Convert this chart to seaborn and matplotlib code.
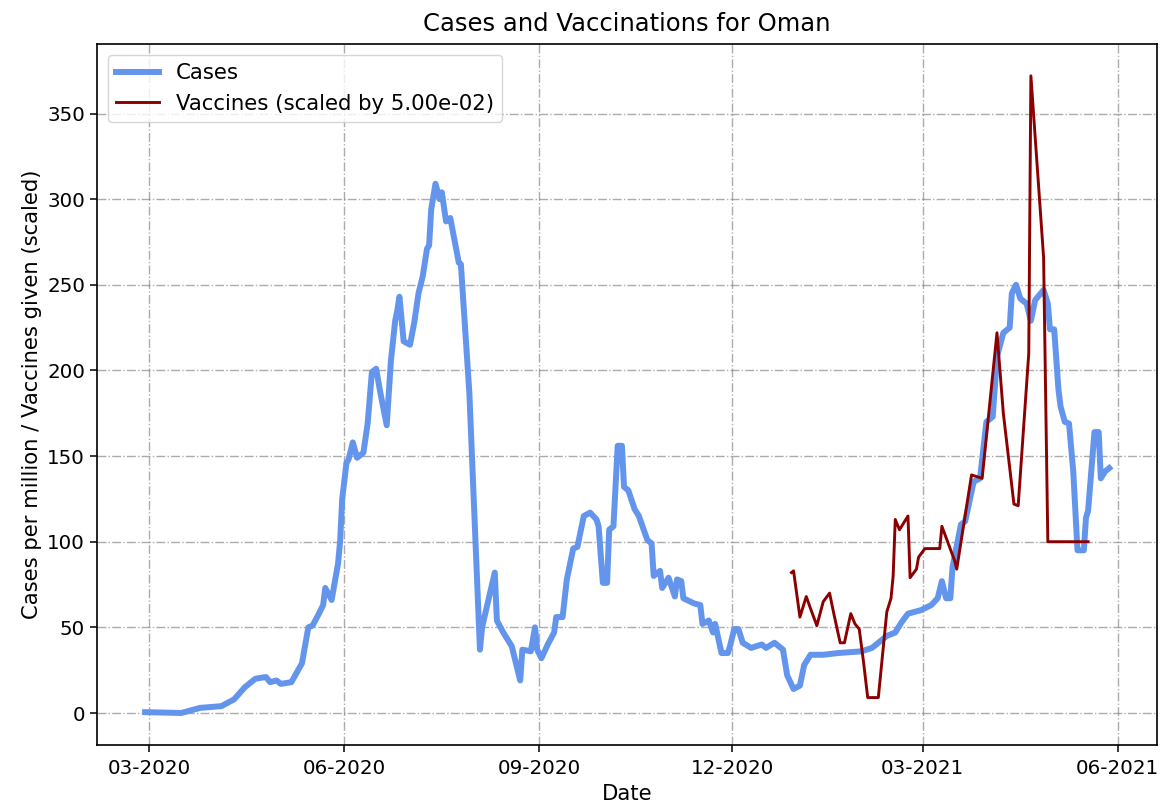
import pandas as pd
import seaborn as sns
import matplotlib.pyplot as plt
import matplotlib.dates as mdates

# dias contados a partir de 2020-03-01
base = pd.Timestamp("2020-03-01")

case_days = [-2, 15, 24, 34, 40, 45, 50, 55, 57, 60, 62, 67, 72, 75, 77, 80, 82, 83, 86, 89,
             90, 91, 93, 94, 96, 98, 101, 103, 105, 107, 109, 112, 114, 116, 117, 118, 120, 123,
             125, 127, 129, 131, 132, 133, 135, 137, 138, 140, 142, 144, 146, 147, 151, 156, 157,
             163, 164, 167, 171, 175, 176, 180, 182, 183, 185, 188, 191, 192, 195, 197, 200, 202,
             205, 208, 211, 212, 214, 216, 217, 219, 221, 223, 224, 226, 229, 231, 235, 237, 238,
             241, 242, 245, 248, 249, 251, 252, 257, 260, 261, 264, 266, 267, 270, 273, 274, 276,
             278, 280, 284, 289, 291, 295, 299, 301, 304, 307, 309, 312, 318, 325, 336, 341, 344,
             348, 352, 355, 358, 364, 369, 372, 374, 376, 378, 379, 383, 385, 389, 392, 395, 398,
             400, 403, 406, 407, 409, 411, 414, 416, 418, 422, 424, 425, 427, 429, 430, 432, 434,
             436, 438, 441, 442, 443, 446, 448, 449, 451, 453]
case_values = [0.5, 0, 3, 4, 8, 15, 20, 21, 18, 19, 17, 18, 29, 50, 51, 58, 63, 73, 66, 87,
               100, 125, 146, 148, 158, 149, 152, 169, 199, 201, 187, 168, 206, 229, 235, 243, 217, 215,
               228, 245, 255, 271, 273, 294, 309, 300, 304, 287, 289, 276, 263, 262, 187, 37, 50,
               82, 54, 47, 39, 19, 37, 36, 50, 37, 32, 40, 47, 56, 56, 78, 96, 97,
               115, 117, 113, 109, 76, 76, 107, 109, 156, 156, 132, 130, 119, 115, 101, 99, 80,
               83, 73, 79, 68, 78, 77, 67, 64, 63, 52, 54, 47, 52, 35, 35, 39, 49,
               49, 41, 38, 40, 38, 41, 37, 22, 14, 16, 28, 34, 34, 35, 36, 38, 41,
               45, 47, 53, 58, 60, 63, 67, 77, 67, 67, 85, 110, 112, 135, 137, 170, 173,
               208, 222, 225, 245, 250, 242, 239, 229, 241, 247, 239, 224, 224, 189, 179, 170, 169,
               141, 95, 95, 114, 118, 164, 164, 137, 141, 143]

vacc_days = [303, 304, 307, 310, 312, 315, 318, 321, 323, 326, 328, 331, 333, 335, 337, 339, 344,
             348, 350, 351, 352, 354, 356, 358, 359, 362, 363, 366, 373, 374, 380, 381, 388, 393,
             400, 403, 408, 410, 415, 416, 422, 424, 443]
vacc_values = [82, 83, 56, 68, 61, 51, 65, 70, 58, 41, 41, 58, 52, 49, 30, 9, 9,
               59, 67, 80, 113, 107, 111, 115, 79, 84, 91, 96, 96, 109, 89, 84, 139, 137,
               222, 175, 122, 121, 210, 372, 266, 100, 100]
escala = 5.00e-02

casos = pd.DataFrame({"Date": base + pd.to_timedelta(case_days, unit="D"), "valor": case_values})
vacinas = pd.DataFrame({"Date": base + pd.to_timedelta(vacc_days, unit="D"), "valor": vacc_values})

plt.rcParams["axes.linewidth"] = 1.2
plt.rcParams["xtick.major.size"] = 5
plt.rcParams["ytick.major.size"] = 5
plt.rcParams["xtick.major.width"] = 1.1
plt.rcParams["ytick.major.width"] = 1.1
plt.rcParams["xtick.major.pad"] = 5.5

fig, ax = plt.subplots(figsize=(11.68, 8.07), dpi=100)

sns.lineplot(data=casos, x="Date", y="valor", ax=ax, color="cornflowerblue", linewidth=4.3, label="Cases")
sns.lineplot(data=vacinas, x="Date", y="valor", ax=ax, color="darkred", linewidth=2.1,
             label=f"Vaccines (scaled by {escala:.2e})")

ax.xaxis.set_major_locator(mdates.MonthLocator(bymonth=[3, 6, 9, 12]))
ax.xaxis.set_major_formatter(mdates.DateFormatter("%m-%Y"))
ax.grid(True, color="gray", linestyle="-.", linewidth=1.0, alpha=0.65)

ax.set_title("Cases and Vaccinations for Oman", fontsize=17.5, pad=9)
ax.set_xlabel("Date", fontsize=15.2)
ax.set_ylabel("Cases per million / Vaccines given (scaled)", fontsize=15.2)
ax.tick_params(labelsize=14.3)
ax.legend(loc="upper left", fontsize=15.3)

plt.subplots_adjust(left=0.083, right=0.991, top=0.9455, bottom=0.077)
plt.savefig("out.png")
plt.close()
